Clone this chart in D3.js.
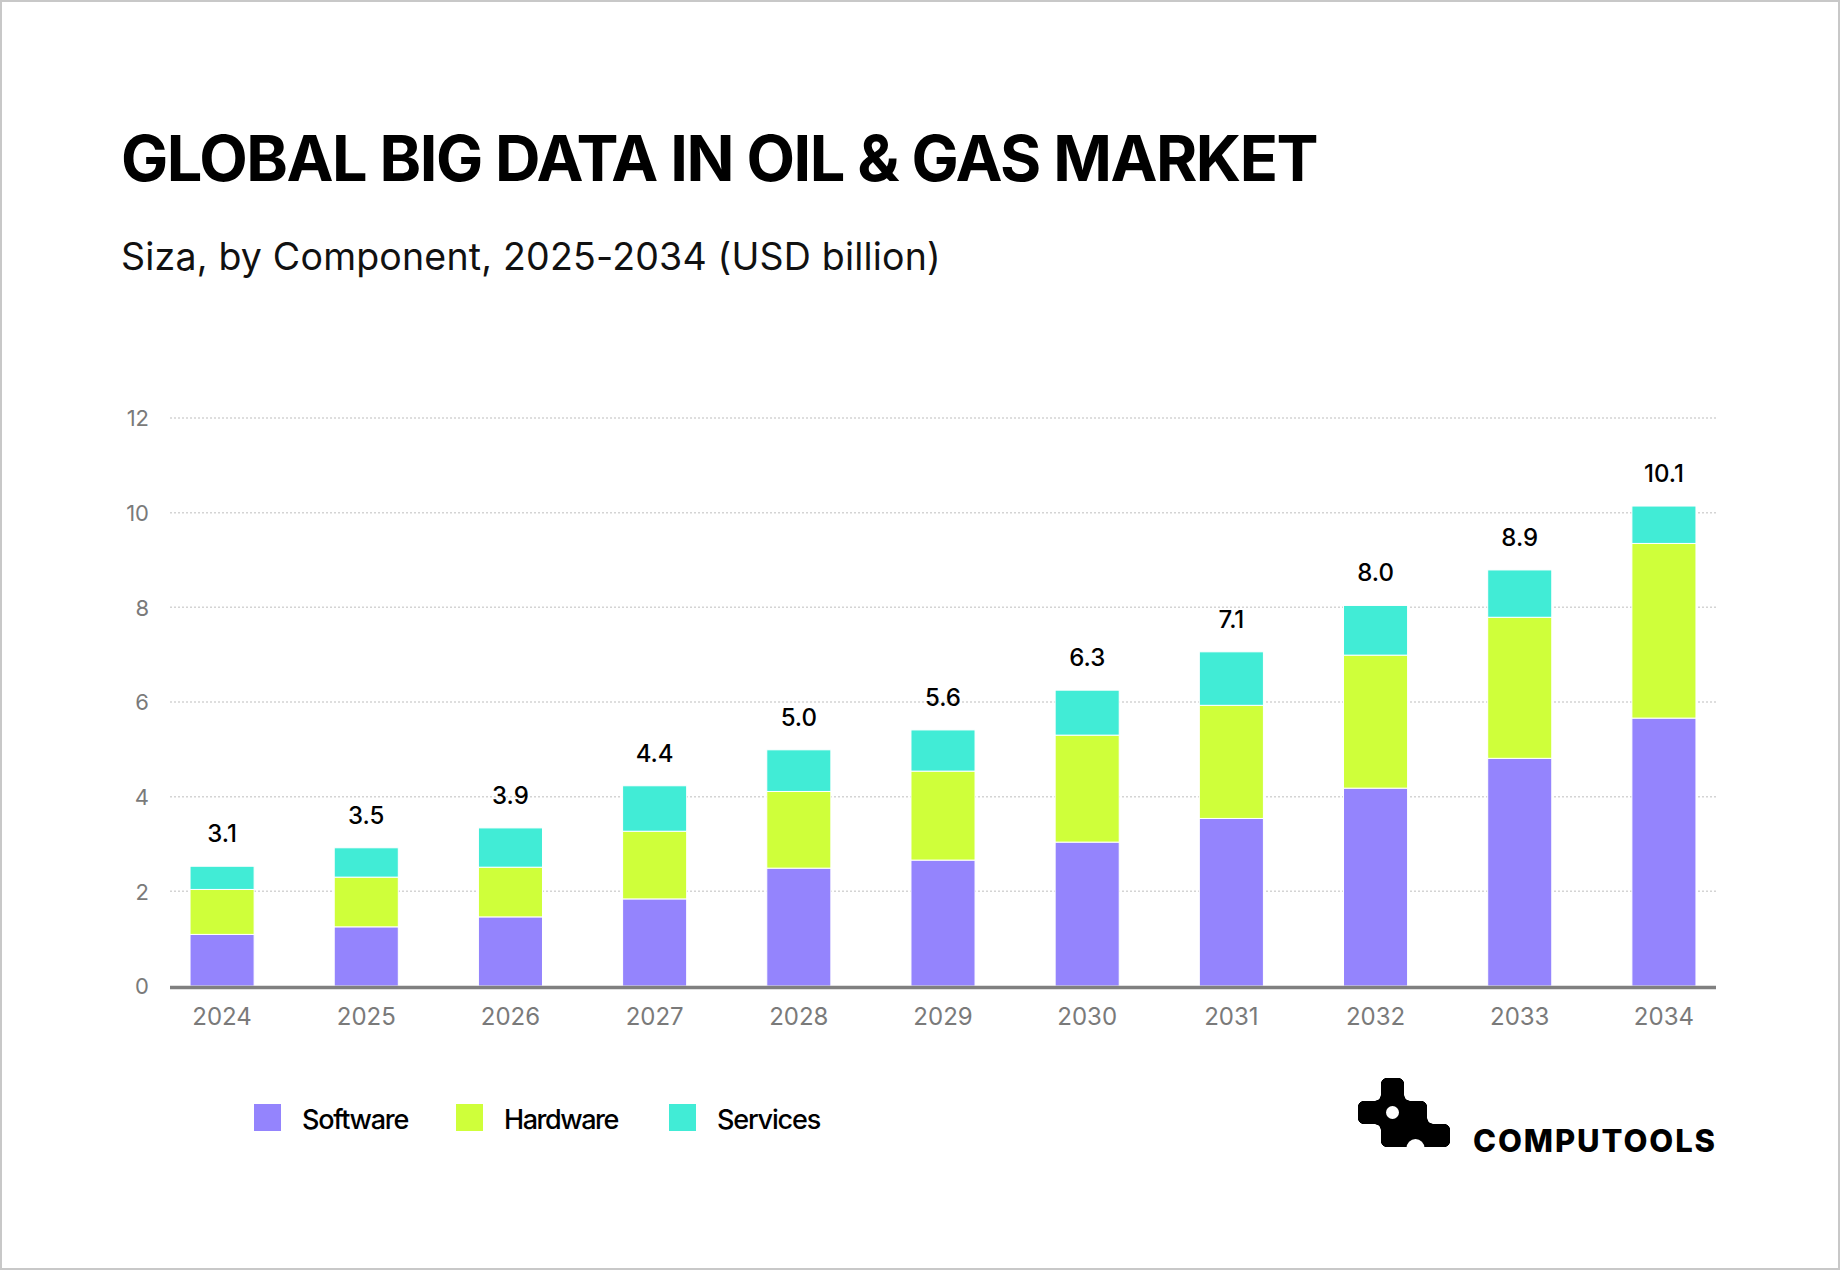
<!DOCTYPE html>
<html>
<head>
<meta charset="utf-8">
<script src="https://cdn.jsdelivr.net/npm/d3@7"></script>
<style>
  html, body { margin: 0; padding: 0; background: #fff; }
  svg { display: block; }
  text { font-family: Inter, "Noto Sans", sans-serif; }
</style>
</head>
<body>
<svg id="chart" width="1840" height="1270"></svg>
<script>
// ---- data ----
const years = ["2024","2025","2026","2027","2028","2029","2030","2031","2032","2033","2034"];
const software = [1.09, 1.25, 1.46, 1.84, 2.49, 2.66, 3.04, 3.54, 4.18, 4.81, 5.66];
const hardware = [0.95, 1.05, 1.05, 1.43, 1.62, 1.88, 2.26, 2.39, 2.81, 2.98, 3.69];
const services = [0.49, 0.62, 0.83, 0.96, 0.88, 0.87, 0.95, 1.13, 1.05, 1.00, 0.79];
const totalLabels = ["3.1","3.5","3.9","4.4","5.0","5.6","6.3","7.1","8.0","8.9","10.1"];
const yTicks = [0, 2, 4, 6, 8, 10, 12];
const seriesNames = ["Software", "Hardware", "Services"];
const seriesColors = ["#9484fd", "#cfff3a", "#41ecd6"];
const titleText = "GLOBAL BIG DATA IN OIL & GAS MARKET";
const subtitleText = "Siza, by Component, 2025-2034 (USD billion)";
const brandText = "COMPUTOOLS";

// ---- setup ----
const svg = d3.select("#chart");
const W = 1840, H = 1270;

svg.append("rect").attr("x", 1).attr("y", 1).attr("width", W - 2).attr("height", H - 2)
  .attr("fill", "#fff").attr("stroke", "#c8c8c8").attr("stroke-width", 2);

function fitWidth(sel, target) {
  const n = sel.text().length;
  const w = sel.node().getComputedTextLength();
  sel.attr("letter-spacing", ((target - w) / n).toFixed(3));
}

// title & subtitle
const title = svg.append("text").attr("x", 121).attr("y", 181)
  .attr("font-size", 63).attr("font-weight", 700).attr("fill", "#000").text(titleText);
fitWidth(title, 1196);
const sub = svg.append("text").attr("x", 121).attr("y", 270)
  .attr("font-size", 37.5).attr("font-weight", 400).attr("fill", "#111").text(subtitleText);
fitWidth(sub, 820);

// scales
const x = d3.scaleBand().domain(years).range([170, 1716]).paddingInner(0.5556).paddingOuter(0.139);
const y = d3.scaleLinear().domain([0, 12]).range([986, 418]);

// gridlines
svg.append("g").selectAll("line").data(yTicks.filter(d => d > 0)).join("line")
  .attr("x1", 170).attr("x2", 1716)
  .attr("y1", d => y(d)).attr("y2", d => y(d))
  .attr("stroke", "#d4d4d4").attr("stroke-width", 1.5).attr("stroke-dasharray", "2,2");

// y axis labels
const yAxis = d3.axisLeft(y).tickValues(yTicks).tickSize(0).tickPadding(0).tickFormat(d3.format("d"));
const gy = svg.append("g").attr("transform", "translate(149,0)").call(yAxis);
gy.select(".domain").remove();
gy.selectAll("text").attr("font-size", 22).attr("fill", "#7a7a7a")
  .attr("font-family", "Inter, sans-serif").attr("dy", "0.36em");

// stacked bars
const rows = years.map((yr, i) => ({ year: yr, Software: software[i], Hardware: hardware[i], Services: services[i] }));
const stack = d3.stack().keys(seriesNames)(rows);
svg.append("g").selectAll("g").data(stack).join("g")
  .attr("fill", (d, i) => seriesColors[i])
  .selectAll("rect").data(d => d).join("rect")
  .attr("x", d => x(d.data.year))
  .attr("width", x.bandwidth())
  .attr("y", d => y(d[1]))
  .attr("height", d => y(d[0]) - y(d[1]))
  .attr("stroke", "#fff").attr("stroke-width", 1);

// x axis line + labels
const xAxis = d3.axisBottom(x).tickSize(0).tickPadding(0);
const gx = svg.append("g").attr("transform", "translate(0,987.5)").call(xAxis);
gx.select(".domain").attr("stroke", "#808080").attr("stroke-width", 3.5)
  .attr("d", "M170,0H1716");
gx.selectAll("text").attr("font-size", 24).attr("fill", "#7a7a7a")
  .attr("font-family", "Inter, sans-serif").attr("dy", null).attr("y", 37);

// total labels
const totals = years.map((yr, i) => software[i] + hardware[i] + services[i]);
svg.append("g").selectAll("text").data(years).join("text")
  .attr("x", d => x(d) + x.bandwidth() / 2)
  .attr("y", (d, i) => y(totals[i]) - 24)
  .attr("text-anchor", "middle").attr("font-size", 24).attr("font-weight", 500)
  .attr("fill", "#000").text((d, i) => totalLabels[i]);

// legend
const legendX = [254, 456, 669];
const legendW = [106, 114, 103];
const lg = svg.append("g").selectAll("g").data(seriesNames).join("g")
  .attr("transform", (d, i) => `translate(${legendX[i]},1104)`);
lg.append("rect").attr("width", 27).attr("height", 27).attr("fill", (d, i) => seriesColors[i]);
lg.append("text").attr("x", 48).attr("y", 24.5).attr("font-size", 27).attr("font-weight", 500)
  .attr("fill", "#000").text(d => d)
  .each(function(d, i) { fitWidth(d3.select(this), legendW[i]); });

// brand logo (gooey-joined cells)
const defs = svg.append("defs");
const goo = defs.append("filter").attr("id", "goo")
  .attr("x", "-20%").attr("y", "-20%").attr("width", "140%").attr("height", "140%");
goo.append("feGaussianBlur").attr("in", "SourceGraphic").attr("stdDeviation", 3.2).attr("result", "b");
goo.append("feColorMatrix").attr("in", "b").attr("mode", "matrix")
  .attr("values", "0 0 0 0 0  0 0 0 0 0  0 0 0 0 0  0 0 0 22 -10");
const c = 23, ox = 1358, oy = 1078;
const cells = [[1,0],[0,1],[1,1],[2,1],[1,2],[2,2],[3,2]];
const logo = svg.append("g");
logo.append("g").attr("filter", "url(#goo)").attr("fill", "#000")
  .selectAll("rect").data(cells).join("rect")
  .attr("x", d => ox + d[0] * c).attr("y", d => oy + d[1] * c)
  .attr("width", c).attr("height", c);
logo.append("circle").attr("cx", ox + 1.5 * c).attr("cy", oy + 1.5 * c).attr("r", 6.5).attr("fill", "#fff");
logo.append("circle").attr("cx", ox + 2.5 * c).attr("cy", oy + 3 * c + 1).attr("r", 9).attr("fill", "#fff");
const brand = svg.append("text").attr("x", 1473).attr("y", 1152).attr("font-size", 31)
  .attr("font-weight", 800).attr("fill", "#000").text(brandText);
fitWidth(brand, 244);
</script>
</body>
</html>
